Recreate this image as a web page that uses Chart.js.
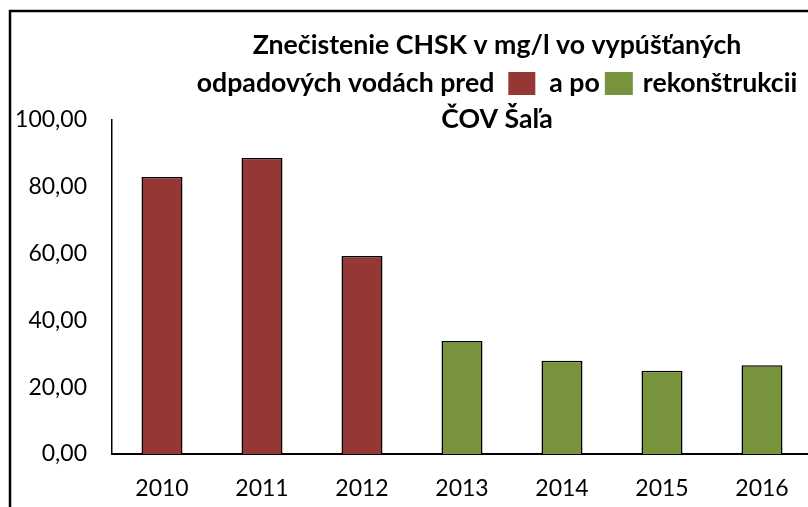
<!DOCTYPE html>
<html>
<head>
<meta charset="utf-8">
<script src="https://cdn.jsdelivr.net/npm/chart.js@4.4.0/dist/chart.umd.min.js"></script>
<style>
    html, body { margin: 0; padding: 0; background: #fff; overflow: hidden; }
    #chart { display: block; }
</style>
</head>
<body>
<canvas id="chart" width="812" height="507"></canvas>
<script>
// Data
const years = ['2010', '2011', '2012', '2013', '2014', '2015', '2016'];
const chskValues = [82.9, 88.6, 59.3, 33.8, 27.9, 24.9, 26.6];
const phases = ['pred', 'pred', 'pred', 'po', 'po', 'po', 'po'];
const phaseColors = { pred: '#953735', po: '#77933C' };

const yMin = 0;
const yMax = 100;
const yStep = 20;

const titleLine1 = 'Znečistenie CHSK v mg/l vo vypúšťaných';
const titleLine2 = ['odpadových vodách pred', 'a po', 'rekonštrukcii'];
const titleLine3 = 'ČOV Šaľa';

const FONT = 'Lato, "Open Sans", sans-serif';

// Helper: 100 -> "100,00"
function formatTick(v) {
    return v.toFixed(2).replace('.', ',');
}

// Frame + title with inline colour keys
const decorPlugin = {
    id: 'decor',
    afterDraw(chart) {
        const ctx = chart.ctx;
        ctx.save();

        // outer frame (only top and left visible)
        ctx.strokeStyle = '#000';
        ctx.lineWidth = 2.5;
        ctx.beginPath();
        ctx.moveTo(10, 520);
        ctx.lineTo(10, 11);
        ctx.lineTo(830, 11);
        ctx.stroke();

        // fit title font to the reference width of the first line
        let size = 24;
        ctx.font = `bold ${size}px ${FONT}`;
        size = size * 489 / ctx.measureText(titleLine1).width;
        ctx.font = `bold ${size}px ${FONT}`;
        ctx.fillStyle = '#000';
        ctx.textBaseline = 'alphabetic';
        ctx.textAlign = 'left';

        const cx = 497;
        const w1 = ctx.measureText(titleLine1).width;
        ctx.fillText(titleLine1, cx - w1 / 2, 54);

        const parts = titleLine2.map(t => ctx.measureText(t).width);
        const total = parts[0] + 14 + 27 + 14 + parts[1] + 5 + 28 + 10 + parts[2];
        let x = cx - total / 2;
        ctx.fillText(titleLine2[0], x, 92);
        x += parts[0] + 14;
        ctx.fillStyle = phaseColors.pred;
        ctx.fillRect(x, 72, 27, 23);
        x += 27 + 14;
        ctx.fillStyle = '#000';
        ctx.fillText(titleLine2[1], x, 92);
        x += parts[1] + 5;
        ctx.fillStyle = phaseColors.po;
        ctx.fillRect(x, 72, 28, 23);
        x += 28 + 10;
        ctx.fillStyle = '#000';
        ctx.fillText(titleLine2[2], x, 92);

        const w3 = ctx.measureText(titleLine3).width;
        ctx.fillText(titleLine3, cx - w3 / 2, 128);

        ctx.restore();
    }
};

new Chart(document.getElementById('chart'), {
    type: 'bar',
    data: {
        labels: years,
        datasets: [{
            data: chskValues,
            backgroundColor: phases.map(p => phaseColors[p]),
            borderColor: '#000',
            borderWidth: 1.5,
            barPercentage: 1,
            categoryPercentage: 0.41
        }]
    },
    options: {
        responsive: false,
        animation: false,
        layout: { padding: { top: 120, left: 0, right: 0, bottom: 0 } },
        plugins: {
            legend: { display: false },
            title: { display: false },
            tooltip: { enabled: false }
        },
        scales: {
            x: {
                grid: { display: false, drawTicks: false },
                border: { display: true, color: '#000', width: 2 },
                ticks: {
                    color: '#000',
                    padding: 21,
                    font: { family: FONT, size: 23 }
                },
                afterFit: scale => { scale.height = 53; }
            },
            y: {
                min: yMin,
                max: yMax,
                grid: { display: false, drawTicks: false },
                border: { display: true, color: '#000', width: 1.5 },
                ticks: {
                    stepSize: yStep,
                    color: '#000',
                    padding: 25,
                    font: { family: FONT, size: 23 },
                    callback: v => formatTick(v)
                },
                afterFit: scale => { scale.width = 112; }
            }
        }
    },
    plugins: [decorPlugin]
});
</script>
</body>
</html>
